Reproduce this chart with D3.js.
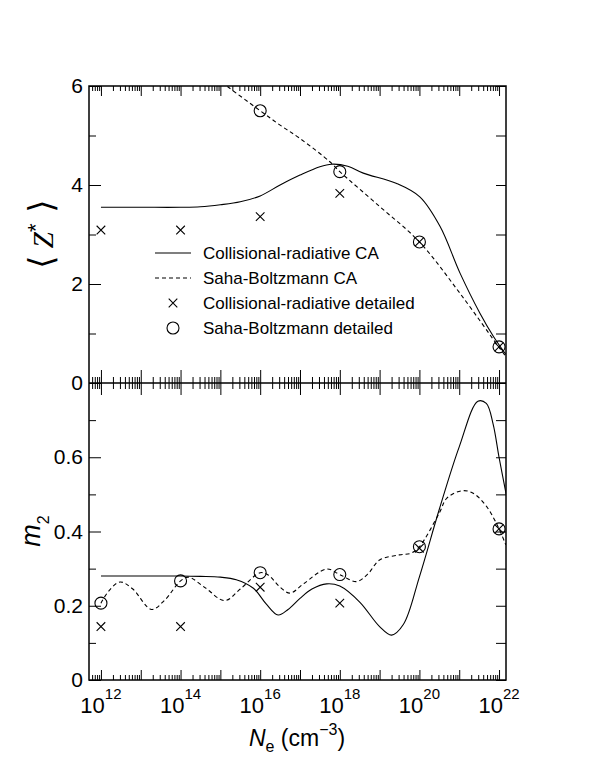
<!DOCTYPE html>
<html>
<head>
<meta charset="utf-8">
<script src="https://cdn.jsdelivr.net/npm/d3@7"></script>
<style>
body { margin: 0; background: #fff; }
text { font-family: "Liberation Sans", Arial, Helvetica, sans-serif; fill: #000; }
</style>
</head>
<body>
<div id="chart"></div>
<script>
// curves are given as [log10(Ne), value]
var crCaZ = [[12, 3.55], [13, 3.55], [14, 3.55], [14.5, 3.56], [15, 3.6], [15.5, 3.66], [16, 3.78],
	[16.5, 4.0], [17, 4.2], [17.5, 4.37], [17.8, 4.42], [18.2, 4.38], [18.59, 4.24], [19.43, 4.03],
	[20.01, 3.76], [20.52, 3.16], [21.02, 2.22], [21.52, 1.41], [21.86, 0.94], [22.17, 0.58]];
var sbCaZ = [[14.9, 6.16], [15.16, 6.0], [16, 5.5], [16.5, 5.21], [17, 4.94], [17.75, 4.47], [18, 4.27],
	[19.01, 3.56], [20, 2.85], [21.02, 1.81], [22, 0.72], [22.17, 0.54]];
var crCaM2 = [[12, 0.28], [13, 0.28], [14, 0.28], [14.5, 0.279], [15, 0.277], [15.4, 0.27], [15.83, 0.247],
	[16.15, 0.205], [16.45, 0.175], [16.7, 0.19], [17, 0.22], [17.3, 0.245], [17.67, 0.259], [18, 0.253],
	[18.5, 0.21], [19, 0.144], [19.3, 0.121], [19.6, 0.15], [20, 0.278], [20.5, 0.46], [21, 0.628],
	[21.47, 0.751], [21.68, 0.745], [21.85, 0.69], [22, 0.6], [22.18, 0.5]];
var sbCaM2 = [[12, 0.207], [12.2, 0.24], [12.48, 0.264], [12.8, 0.245], [13.27, 0.19], [13.6, 0.215],
	[14, 0.267], [14.2, 0.277], [14.6, 0.25], [15.11, 0.214], [15.5, 0.245], [16, 0.289], [16.2, 0.283],
	[16.5, 0.25], [16.75, 0.234], [17.1, 0.26], [17.67, 0.299], [18, 0.284], [18.42, 0.265], [18.7, 0.285],
	[19, 0.323], [19.5, 0.337], [19.8, 0.342], [20, 0.359], [20.5, 0.45], [20.69, 0.49], [21.08, 0.51],
	[21.35, 0.503], [21.69, 0.467], [22, 0.407], [22.17, 0.364]];

// detailed calculations
var detailedExp = [12, 14, 16, 18, 20, 22];
var crDetZ = [3.09, 3.09, 3.36, 3.83, 2.85, 0.73];
var sbDetZ = [null, null, 5.5, 4.27, 2.85, 0.73];
var crDetM2 = [0.144, 0.144, 0.25, 0.207, 0.355, 0.407];
var sbDetM2 = [0.207, 0.267, 0.289, 0.284, 0.359, 0.407];

var legendLabels = ["Collisional-radiative CA", "Saha-Boltzmann CA",
	"Collisional-radiative detailed", "Saha-Boltzmann detailed"];

var xLabelExp = [12, 14, 16, 18, 20, 22];
var zMajor = [0, 2, 4, 6], zMinor = [1, 3, 5];
var mMajor = [0, 0.2, 0.4, 0.6], mMinor = [0.1, 0.3, 0.5, 0.7];

var L = 89, R = 506, T = 86, M = 383, B = 680;

var svg = d3.select("#chart").append("svg")
	.attr("width", 595)
	.attr("height", 770);

var x = d3.scaleLog().domain([Math.pow(10, 11.7), Math.pow(10, 22.175)]).range([L, R]);
var yTop = d3.scaleLinear().domain([0, 6]).range([M, T]);
var yBot = d3.scaleLinear().domain([0, 0.8]).range([B, M]);

var decades = d3.range(12, 23).map(function(e) { return Math.pow(10, e); });
var minors = [];
d3.range(11, 22).forEach(function(e) {
	for (var m = 2; m <= 9; m++) {
		var v = m * Math.pow(10, e);
		if (v >= x.domain()[0] && v <= x.domain()[1]) minors.push(v);
	}
});

function clean(g) {
	g.select(".domain").remove();
	g.attr("font-family", null).attr("font-size", null);
	g.selectAll("line").attr("stroke", "#000").attr("stroke-width", 1);
}

function xTicks(axisFn, y, major, minor) {
	svg.append("g").attr("transform", "translate(0," + y + ")")
		.call(axisFn(x).tickValues(decades).tickSize(major).tickFormat(""))
		.call(clean);
	svg.append("g").attr("transform", "translate(0," + y + ")")
		.call(axisFn(x).tickValues(minors).tickSize(minor).tickFormat(""))
		.call(clean);
}

xTicks(d3.axisTop, T, -10, -5);
xTicks(d3.axisTop, M, 13, 6);
xTicks(d3.axisBottom, M, 12, 6);
xTicks(d3.axisBottom, B, -10, -5);

function yTicks(scale, major, minor, fmt) {
	svg.append("g").attr("transform", "translate(" + L + ",0)")
		.call(d3.axisLeft(scale).tickValues(major).tickSize(-12).tickPadding(6).tickFormat(fmt))
		.call(clean)
		.selectAll("text").style("font-size", "21px");
	svg.append("g").attr("transform", "translate(" + L + ",0)")
		.call(d3.axisLeft(scale).tickValues(minor).tickSize(-7).tickFormat(""))
		.call(clean);
	svg.append("g").attr("transform", "translate(" + R + ",0)")
		.call(d3.axisRight(scale).tickValues(major.concat(minor)).tickSize(-10).tickFormat(""))
		.call(clean);
}

yTicks(yTop, zMajor, zMinor, d3.format("d"));
yTicks(yBot, mMajor, mMinor, function(d) { return d === 0 ? "0" : d.toFixed(1); });

// x tick labels 10^n
var xl = svg.append("g").selectAll("text").data(xLabelExp).enter().append("text")
	.attr("x", function(d) { return x(Math.pow(10, d)); })
	.attr("y", 713)
	.attr("text-anchor", "middle")
	.style("font-size", "22px");
xl.append("tspan").text("10");
xl.append("tspan").attr("dy", -14).style("font-size", "15px").text(function(d) { return d; });

// frame
svg.append("rect")
	.attr("x", L).attr("y", T)
	.attr("width", R - L).attr("height", B - T)
	.attr("fill", "none").attr("stroke", "#000").attr("stroke-width", 1.5);
svg.append("line")
	.attr("x1", L).attr("x2", R).attr("y1", M).attr("y2", M)
	.attr("stroke", "#000").attr("stroke-width", 1.5);

var defs = svg.append("defs");
defs.append("clipPath").attr("id", "clipTop").append("rect")
	.attr("x", L).attr("y", T).attr("width", R - L).attr("height", M - T);
defs.append("clipPath").attr("id", "clipBot").append("rect")
	.attr("x", L).attr("y", M).attr("width", R - L).attr("height", B - M);

function curve(data, yScale, clip, dashed) {
	var line = d3.line()
		.x(function(d) { return x(Math.pow(10, d[0])); })
		.y(function(d) { return yScale(d[1]); })
		.curve(d3.curveCatmullRom.alpha(0.5));
	svg.append("path")
		.datum(data)
		.attr("clip-path", "url(#" + clip + ")")
		.attr("d", line)
		.attr("fill", "none")
		.attr("stroke", "#000")
		.attr("stroke-width", 1.1)
		.attr("stroke-dasharray", dashed ? "4,3" : null);
}

curve(crCaZ, yTop, "clipTop", false);
curve(sbCaZ, yTop, "clipTop", true);
curve(crCaM2, yBot, "clipBot", false);
curve(sbCaM2, yBot, "clipBot", true);

function crossPath(cx, cy) {
	var s = 4.3;
	return "M" + (cx - s) + "," + (cy - s) + "L" + (cx + s) + "," + (cy + s) +
		"M" + (cx - s) + "," + (cy + s) + "L" + (cx + s) + "," + (cy - s);
}

function markers(vals, yScale, kind) {
	var pts = detailedExp.map(function(e, i) { return { e: e, v: vals[i] }; })
		.filter(function(d) { return d.v !== null; });
	if (kind == "cross") {
		svg.append("g").selectAll("path").data(pts).enter().append("path")
			.attr("d", function(d) { return crossPath(x(Math.pow(10, d.e)), yScale(d.v)); })
			.attr("stroke", "#000").attr("stroke-width", 1.1).attr("fill", "none");
	} else {
		svg.append("g").selectAll("circle").data(pts).enter().append("circle")
			.attr("cx", function(d) { return x(Math.pow(10, d.e)); })
			.attr("cy", function(d) { return yScale(d.v); })
			.attr("r", 6)
			.attr("stroke", "#000").attr("stroke-width", 1.1).attr("fill", "none");
	}
}

markers(crDetZ, yTop, "cross");
markers(sbDetZ, yTop, "circle");
markers(crDetM2, yBot, "cross");
markers(sbDetM2, yBot, "circle");

// legend
var leg = svg.append("g");
legendLabels.forEach(function(lab, i) {
	var ly = 253 + i * 25;
	if (i < 2) {
		leg.append("line").attr("x1", 155).attr("x2", 191).attr("y1", ly).attr("y2", ly)
			.attr("stroke", "#000").attr("stroke-width", 1.1)
			.attr("stroke-dasharray", i == 1 ? "4,3" : null);
	} else if (i == 2) {
		leg.append("path").attr("d", crossPath(173, ly)).attr("stroke", "#000")
			.attr("stroke-width", 1.1).attr("fill", "none");
	} else {
		leg.append("circle").attr("cx", 173).attr("cy", ly).attr("r", 6)
			.attr("stroke", "#000").attr("stroke-width", 1.1).attr("fill", "none");
	}
	leg.append("text").attr("x", 203).attr("y", ly + 6).style("font-size", "17px").text(lab);
});

// axis titles
var xt = svg.append("text").attr("x", 297).attr("y", 746).attr("text-anchor", "middle")
	.style("font-size", "23px");
xt.append("tspan").style("font-style", "italic").text("N");
xt.append("tspan").attr("dy", 6).style("font-size", "16px").text("e");
xt.append("tspan").attr("dy", -6).text(" (cm");
xt.append("tspan").attr("dy", -11).style("font-size", "16px").text("\u22123");
xt.append("tspan").attr("dy", 11).text(")");

var zt = svg.append("text").attr("transform", "translate(53,234) rotate(-90)")
	.attr("text-anchor", "middle").style("font-size", "29px");
zt.append("tspan").style("font-family", "DejaVu Sans").style("font-size", "34px").text("\u27E8");
zt.append("tspan").style("font-family", "Liberation Serif").style("font-style", "italic").text(" Z");
zt.append("tspan").attr("dy", -10).style("font-size", "22px").text("*");
zt.append("tspan").attr("dy", 10).style("font-family", "DejaVu Sans").style("font-size", "34px").text(" \u27E9");

var mt = svg.append("text").attr("transform", "translate(40,531) rotate(-90)")
	.attr("text-anchor", "middle").style("font-size", "27px");
mt.append("tspan").style("font-style", "italic").text("m");
mt.append("tspan").attr("dy", 9).style("font-size", "16px").text("2");
</script>
</body>
</html>
